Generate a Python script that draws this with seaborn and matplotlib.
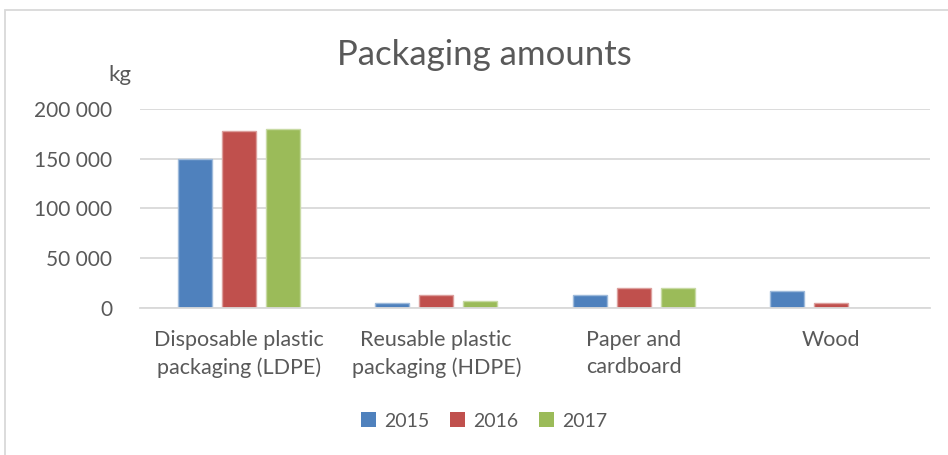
import pandas as pd
import seaborn as sns
import matplotlib.pyplot as plt
from matplotlib.colors import to_rgb
from matplotlib.patches import Rectangle

# values (kg)
categories = ['Disposable plastic\npackaging (LDPE)', 'Reusable plastic\npackaging (HDPE)',
              'Paper and\ncardboard', 'Wood']
years = ['2015', '2016', '2017']
v2015 = [150000, 4800, 12700, 16900]
v2016 = [178000, 13000, 20600, 4800]
v2017 = [180000, 6700, 20600, 0]
colors = ['#4F81BD', '#C0504D', '#9BBB59']

df = pd.DataFrame({'category': categories * 3,
                   'year': [y for y in years for _ in categories],
                   'kg': v2015 + v2016 + v2017})

sns.set_theme(style='white')
plt.rcParams['font.family'] = ['Lato', 'DejaVu Sans']
txt = '#595959'

fig = plt.figure(figsize=(9.48, 4.55), dpi=100)
ax = fig.add_axes([140 / 948, 1 - 308 / 455, 790 / 948, 199 / 455])

sns.barplot(data=df, x='category', y='kg', hue='year', palette=colors,
            width=0.67, gap=0.23, ax=ax, saturation=1, legend=True)

# lighter outline like the office chart
for p in ax.patches:
    r, g, b = to_rgb(p.get_facecolor()[:3])
    p.set_edgecolor((r + (1 - r) * 0.45, g + (1 - g) * 0.45, b + (1 - b) * 0.45))
    p.set_linewidth(1.0)

ax.set_ylim(0, 200000)
ax.set_yticks([0, 50000, 100000, 150000, 200000])
ax.set_yticklabels([f'{v:,}'.replace(',', ' ') for v in [0, 50000, 100000, 150000, 200000]])
ax.yaxis.grid(True, color='#D9D9D9', linewidth=1.3)
ax.set_axisbelow(True)
for s in ['left', 'right', 'top']:
    ax.spines[s].set_visible(False)
ax.spines['bottom'].set_color('#D9D9D9')
ax.spines['bottom'].set_linewidth(1.3)
ax.tick_params(axis='y', length=0, labelsize=15, colors=txt, pad=20)
ax.tick_params(axis='x', length=0, labelsize=15.5, colors=txt, pad=16)
for lab in ax.get_xticklabels():
    lab.set_linespacing(1.45)
ax.set_xlabel('')
ax.set_ylabel('')

fig.text(484 / 948, 1 - 55 / 455, 'Packaging amounts', ha='center', va='center',
         fontsize=25, color=txt)
fig.text(120 / 948, 1 - 75 / 455, 'kg', ha='center', va='center', fontsize=16, color=txt)

leg = ax.legend(loc='center', bbox_to_anchor=(484 / 948, 1 - 421 / 455),
                bbox_transform=fig.transFigure, ncol=3, frameon=False, fontsize=14,
                labelcolor=txt, handlelength=0.8, handleheight=0.8, handletextpad=0.4,
                columnspacing=1.05)
for h in leg.legend_handles:
    h.set_edgecolor('none')

# chart border
fig.patches.append(Rectangle((5 / 948, -0.5), 2, 1.5 - 10 / 455, transform=fig.transFigure,
                             fill=False, edgecolor='#D9D9D9', linewidth=1.3))

fig.savefig('out.png', dpi=100)
